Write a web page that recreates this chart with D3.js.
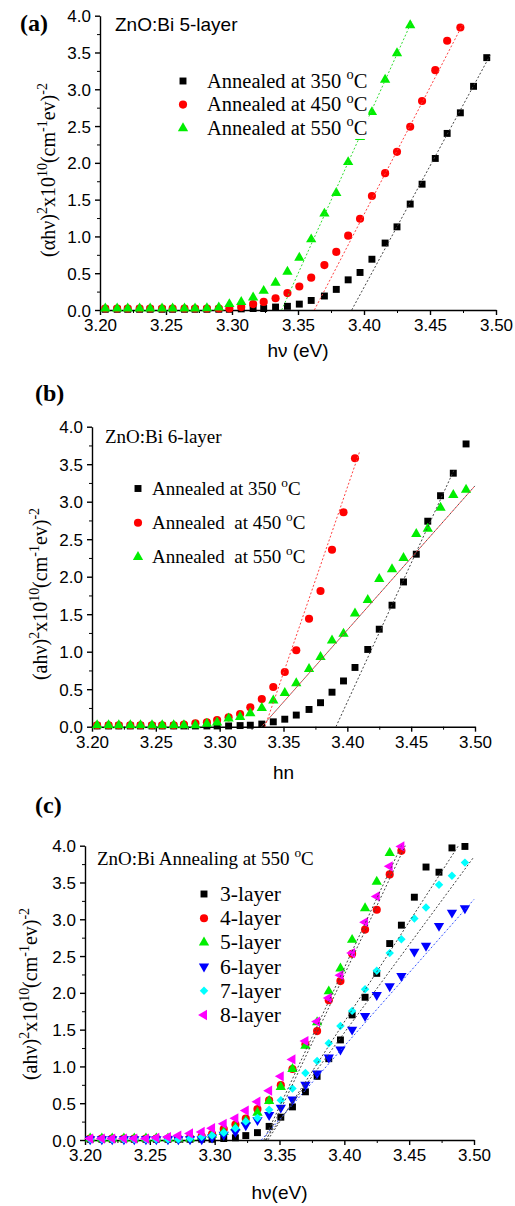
<!DOCTYPE html>
<html lang="en">
<head>
<meta charset="UTF-8">
<title>ZnO:Bi Tauc plots</title>
<style>
  body { margin: 0; background: #fff; }
  svg { display: block; background: #fff; }
  .tick text { font-family: 'Liberation Sans', Arial, sans-serif; font-size: 17px; fill: #000; }
  .axis path, .axis line { stroke: #000; }
  .serif { font-family: 'Liberation Serif', 'Times New Roman', serif; fill: #000; white-space: pre; }
  .sans { font-family: 'Liberation Sans', Arial, sans-serif; fill: #000; white-space: pre; }
</style>
</head>
<body>
<script src="https://d3js.org/d3.v7.min.js"></script>
<script>
// photon energy grid (eV), shared by all three panels
const hv = [3.204, 3.213, 3.221, 3.230, 3.238, 3.247, 3.255, 3.264, 3.272, 3.281, 3.290,
            3.298, 3.307, 3.316, 3.324, 3.333, 3.342, 3.351, 3.360, 3.370, 3.379, 3.388,
            3.397, 3.406, 3.416, 3.425, 3.435, 3.444, 3.454, 3.463, 3.473, 3.483, 3.493];

// (a) 5-layer, annealed at 350 / 450 / 550 C
const a350 = [0.01, 0.01, 0.01, 0.01, 0.01, 0.01, 0.01, 0.01, 0.01, 0.01, 0.01,
              0.01, 0.015, 0.02, 0.02, 0.04, 0.05, 0.08, 0.13, 0.19, 0.28, 0.41,
              0.51, 0.69, 0.91, 1.13, 1.44, 1.71, 2.06, 2.40, 2.68, 3.04, 3.43];
const a450 = [0.02, 0.02, 0.02, 0.02, 0.02, 0.02, 0.02, 0.02, 0.02, 0.02, 0.02,
              0.02, 0.04, 0.08, 0.11, 0.16, 0.23, 0.32, 0.44, 0.61, 0.79, 1.01,
              1.24, 1.55, 1.86, 2.15, 2.49, 2.84, 3.26, 3.66, 3.84, null, null];
const a550 = [0.02, 0.02, 0.02, 0.02, 0.02, 0.02, 0.02, 0.02, 0.02, 0.025, 0.035,
              0.08, 0.11, 0.17, 0.26, 0.37, 0.52, 0.71, 0.96, 1.31, 1.59, 2.01,
              2.35, 2.69, 3.13, 3.49, 3.87, null, null, null, null, null, null];

// (b) 6-layer
const b350 = [0.01, 0.01, 0.01, 0.01, 0.01, 0.01, 0.01, 0.01, 0.01, 0.01, 0.01,
              0.01, 0.01, 0.015, 0.02, 0.035, 0.065, 0.10, 0.155, 0.23, 0.32, 0.46,
              0.61, 0.79, 1.03, 1.30, 1.62, 1.93, 2.30, 2.74, 3.08, 3.38, 3.77];
const b450 = [0.02, 0.02, 0.02, 0.02, 0.02, 0.02, 0.02, 0.02, 0.03, 0.045, 0.06,
              0.09, 0.125, 0.17, 0.26, 0.37, 0.53, 0.73, 1.02, 1.44, 1.81, 2.36,
              2.86, 3.58, null, null, null, null, null, null, null, null, null];
const b550 = [0.02, 0.02, 0.02, 0.02, 0.02, 0.02, 0.02, 0.02, 0.02, 0.02, 0.04,
              0.055, 0.11, 0.13, 0.18, 0.25, 0.35, 0.45, 0.58, 0.77, 0.93, 1.15,
              1.24, 1.51, 1.69, 1.97, 2.10, 2.25, 2.57, 2.64, 2.92, 3.09, 3.16];

// (c) annealed at 550 C, 3..8 layers
const c3 = [0.01, 0.01, 0.01, 0.01, 0.01, 0.01, 0.01, 0.01, 0.01, 0.01, 0.01,
            0.01, 0.02, 0.03, 0.06, 0.10, 0.185, 0.31, 0.45, 0.655, 0.865, 1.105,
            1.36, 1.70, 1.94, 2.265, 2.67, 2.92, 3.30, 3.71, 3.64, 3.97, 3.99];
const c4 = [0.02, 0.02, 0.02, 0.02, 0.02, 0.02, 0.02, 0.02, 0.02, 0.03, 0.05,
            0.08, 0.15, 0.21, 0.29, 0.42, 0.54, 0.745, 0.965, 1.30, 1.48, 1.90,
            2.16, 2.53, 2.86, 3.13, 3.61, 3.93, null, null, null, null, null];
const c5 = [0.02, 0.02, 0.02, 0.02, 0.02, 0.02, 0.02, 0.02, 0.02, 0.02, 0.04,
            0.07, 0.11, 0.17, 0.26, 0.37, 0.53, 0.72, 0.965, 1.28, 1.60, 2.02,
            2.33, 2.72, 3.15, 3.51, 3.90, null, null, null, null, null, null];
const c6 = [0.01, 0.01, 0.01, 0.01, 0.01, 0.01, 0.01, 0.01, 0.01, 0.01, 0.01,
            0.035, 0.07, 0.11, 0.20, 0.27, 0.34, 0.44, 0.55, 0.75, 0.905, 1.12,
            1.23, 1.50, 1.685, 1.97, 2.09, 2.23, 2.56, 2.64, 2.91, 3.09, 3.15];
const c7 = [0.01, 0.01, 0.01, 0.01, 0.01, 0.01, 0.01, 0.01, 0.01, 0.02, 0.045,
            0.06, 0.10, 0.16, 0.25, 0.30, 0.41, 0.54, 0.70, 0.91, 1.075, 1.315,
            1.55, 1.755, 2.05, 2.30, 2.54, 2.73, 3.01, 3.16, 3.47, 3.59, 3.77];
const c8 = [0.02, 0.02, 0.02, 0.02, 0.02, 0.02, 0.03, 0.04, 0.06, 0.09, 0.11,
            0.16, 0.22, 0.295, 0.40, 0.52, 0.67, 0.865, 1.095, 1.345, 1.61, 1.93,
            2.24, 2.54, 2.96, 3.31, 3.72, 3.99, null, null, null, null, null];

// linear fits: [hv0, y0, hv1, y1]
const fitA = [[3.3907, 0, 3.4955, 3.46], [3.3624, 0, 3.4753, 3.90], [3.3376, 0, 3.4361, 3.92]];
const fitB = [[3.3911, 0, 3.4835, 3.42], [3.3355, 0, 3.4099, 3.68], [3.3329, 0, 3.4999, 3.21]];
const fitC = [[3.3410, 0, 3.4880, 4.00], [3.3398, 0, 3.4470, 4.00], [3.3380, 0, 3.4440, 4.00],
              [3.3360, 0, 3.5000, 3.27], [3.3390, 0, 3.5000, 3.85]];

// axis ticks
const xTicks = [3.20, 3.25, 3.30, 3.35, 3.40, 3.45, 3.50];
const yTicks = [0.0, 0.5, 1.0, 1.5, 2.0, 2.5, 3.0, 3.5, 4.0];

const W = 515, H = 1206;
const svg = d3.select("body").append("svg").attr("width", W).attr("height", H);

const shapes = {
  square:   { type: d3.symbolSquare, size: 48, rot: 0 },
  circle:   { type: d3.symbolCircle, size: 52, rot: 0 },
  up:       { type: d3.symbolTriangle, size: 46, rot: 0 },
  down:     { type: d3.symbolTriangle, size: 46, rot: 180 },
  diamond:  { type: d3.symbolSquare, size: 36, rot: 45 },
  left:     { type: d3.symbolTriangle, size: 46, rot: -90 }
};

// text with superscript pieces
function rich(sel, parts, fs) {
  let shift = 0;
  parts.forEach(p => {
    const sup = p[1] === 'sup';
    const target = sup ? -0.42 * fs : 0;
    sel.append("tspan")
      .attr("dy", target - shift)
      .style("font-size", (sup ? fs * 0.7 : fs) + "px")
      .text(p[0]);
    shift = target;
  });
}

const yLabelA = [['(\u03b1h\u03bd)'], ['2', 'sup'], ['x10'], ['10', 'sup'], ['(cm'], ['-1', 'sup'], ['ev)'], ['-2', 'sup']];
const yLabelBC = [['(ah\u03bd)'], ['2', 'sup'], ['x10'], ['10', 'sup'], ['(cm'], ['-1', 'sup'], ['ev)'], ['-2', 'sup']];

const panels = [
  {
    tag: '(a)', tagX: 20, tagY: 31,
    left: 100, right: 496, top: 15.7, bottom: 310,
    title: [['ZnO:Bi 5-layer']], titleCls: 'sans', titleFs: 19, titleX: 115, titleY: 31,
    yLabel: yLabelA, yLabX: 55, yLabY: 170, yLabLen: 188, yLabFs: 20,
    xLabel: 'h\u03bd (eV)', xLabY: 357, xLabFs: 19,
    series: [
      { name: 'Annealed at 350 ', vals: a350, shape: 'square', color: '#000' },
      { name: 'Annealed at 450 ', vals: a450, shape: 'circle', color: '#ff0000' },
      { name: 'Annealed at 550 ', vals: a550, shape: 'up', color: '#00ee00' }
    ],
    fits: fitA, fitColors: [['#444'], ['#ff4040'], ['#33dd33']],
    legX: 183, legY: 81, legDy: 23.6, legTx: 207, legFs: 20.5, legBox: true
  },
  {
    tag: '(b)', tagX: 35, tagY: 401,
    left: 92, right: 475, top: 426.7, bottom: 726.7,
    title: [['ZnO:Bi 6-layer']], titleCls: 'serif', titleFs: 19, titleX: 105, titleY: 443,
    yLabel: yLabelBC, yLabX: 47, yLabY: 594, yLabLen: 212, yLabFs: 20,
    xLabel: 'hn', xLabY: 779, xLabFs: 19,
    series: [
      { name: 'Annealed at 350 ', vals: b350, shape: 'square', color: '#000' },
      { name: 'Annealed  at 450 ', vals: b450, shape: 'circle', color: '#ff0000' },
      { name: 'Annealed  at 550 ', vals: b550, shape: 'up', color: '#00ee00' }
    ],
    fits: fitB, fitColors: [['#444'], ['#ff4040'], ['#555', '#ff4040']],
    legX: 138, legY: 488.5, legDy: 34.2, legTx: 152, legFs: 19, legBox: false
  },
  {
    tag: '(c)', tagX: 35, tagY: 813,
    left: 85, right: 474, top: 845.7, bottom: 1140,
    title: [['ZnO:Bi Annealing at 550 '], ['o', 'sup'], ['C']], titleCls: 'serif', titleFs: 19, titleX: 97, titleY: 865,
    yLabel: yLabelBC, yLabX: 37, yLabY: 994, yLabLen: 202, yLabFs: 20,
    xLabel: 'h\u03bd(eV)', xLabY: 1199, xLabFs: 19,
    series: [
      { name: '3-layer', vals: c3, shape: 'square', color: '#000' },
      { name: '4-layer', vals: c4, shape: 'circle', color: '#ff0000' },
      { name: '5-layer', vals: c5, shape: 'up', color: '#00ee00' },
      { name: '6-layer', vals: c6, shape: 'down', color: '#0000ff' },
      { name: '7-layer', vals: c7, shape: 'diamond', color: '#00ffff' },
      { name: '8-layer', vals: c8, shape: 'left', color: '#ff00ff' }
    ],
    fits: fitC, fitColors: [['#444'], ['#444'], ['#444'], ['#3050ff'], ['#444']],
    legX: 204, legY: 894, legDy: 24.2, legTx: 220, legFs: 21.5, legBox: false, plainLegend: true
  }
];

function marker(g, shape, color, x, y) {
  const s = shapes[shape];
  g.append("path")
    .attr("d", d3.symbol().type(s.type).size(s.size)())
    .attr("transform", `translate(${x},${y}) rotate(${s.rot})`)
    .attr("fill", color);
}

panels.forEach(p => {
  const x = d3.scaleLinear().domain([3.20, 3.50]).range([p.left, p.right]);
  const y = d3.scaleLinear().domain([0, 4]).range([p.bottom, p.top]);
  const g = svg.append("g");

  // minor ticks
  const xMinor = d3.range(0, 6).map(i => 3.225 + i * 0.05);
  const yMinor = d3.range(0, 8).map(i => 0.25 + i * 0.5);
  g.append("g").attr("class", "axis").attr("transform", `translate(0,${p.bottom})`)
    .call(d3.axisBottom(x).tickValues(xMinor).tickSize(3).tickFormat(""))
    .call(a => a.select(".domain").remove());
  g.append("g").attr("class", "axis").attr("transform", `translate(${p.left},0)`)
    .call(d3.axisLeft(y).tickValues(yMinor).tickSize(3).tickFormat(""))
    .call(a => a.select(".domain").remove());

  // major axes
  g.append("g").attr("class", "axis").attr("transform", `translate(0,${p.bottom})`)
    .call(d3.axisBottom(x).tickValues(xTicks).tickSize(5).tickSizeOuter(0).tickPadding(4).tickFormat(d3.format(".2f")))
    .call(a => a.selectAll("path, line").attr("stroke-width", 1.4));
  g.append("g").attr("class", "axis").attr("transform", `translate(${p.left},0)`)
    .call(d3.axisLeft(y).tickValues(yTicks).tickSize(5).tickSizeOuter(0).tickPadding(4).tickFormat(d3.format(".1f")))
    .call(a => a.selectAll("path, line").attr("stroke-width", 1.4))
    .call(a => a.selectAll("text").attr("dy", "0.36em"));

  // data points
  p.series.forEach(s => {
    const sg = g.append("g");
    s.vals.forEach((v, i) => {
      if (v === null) return;
      marker(sg, s.shape, s.color, x(hv[i]), y(v));
    });
  });

  // fit lines
  p.fits.forEach((f, i) => {
    p.fitColors[i].forEach((c, k) => {
      g.append("line")
        .attr("x1", x(f[0])).attr("y1", y(f[1]))
        .attr("x2", x(f[2])).attr("y2", y(f[3]))
        .attr("stroke", c).attr("stroke-width", 1)
        .attr("stroke-dasharray", "2,2")
        .attr("stroke-dashoffset", k * 2);
    });
  });

  // legend
  const lg = g.append("g");
  const items = p.series.map((s, i) => {
    const ly = p.legY + i * p.legDy;
    const t = lg.append("text").attr("class", "serif")
      .attr("x", p.legTx).attr("y", ly + p.legFs * 0.33);
    if (p.plainLegend) rich(t, [[s.name]], p.legFs);
    else rich(t, [[s.name], ['o', 'sup'], ['C']], p.legFs);
    return { t, ly, s };
  });
  if (p.legBox) {
    const boxes = items.map(d => d.t.node().getBBox());
    const x0 = p.legX - 6, x1 = d3.max(boxes, b => b.x + b.width) + 1;
    const y0 = d3.min(boxes, b => b.y) - 2, y1 = d3.max(boxes, b => b.y + b.height);
    lg.insert("rect", ":first-child").attr("x", x0).attr("y", y0)
      .attr("width", x1 - x0).attr("height", y1 - y0).attr("fill", "#fff");
  }
  items.forEach(d => marker(lg, d.s.shape, d.s.color, p.legX, d.ly));

  // title
  const tt = g.append("text").attr("class", p.titleCls).attr("x", p.titleX).attr("y", p.titleY);
  rich(tt, p.title, p.titleFs);

  // panel tag
  g.append("text").attr("class", "serif").attr("x", p.tagX).attr("y", p.tagY)
    .style("font-size", "24px").style("font-weight", "bold").text(p.tag);

  // y label, squeezed along its length to the measured span
  const yl = g.append("text").attr("class", "serif").attr("text-anchor", "middle");
  rich(yl, p.yLabel, p.yLabFs);
  const len = yl.node().getBBox().width;
  const k = Math.min(1, p.yLabLen / len);
  yl.attr("transform", `translate(${p.yLabX},${p.yLabY}) rotate(-90) scale(${k},1)`);

  // x label
  g.append("text").attr("class", "sans")
    .attr("x", (p.left + p.right) / 2).attr("y", p.xLabY)
    .attr("text-anchor", "middle").style("font-size", p.xLabFs + "px")
    .text(p.xLabel);
});
</script>
</body>
</html>
